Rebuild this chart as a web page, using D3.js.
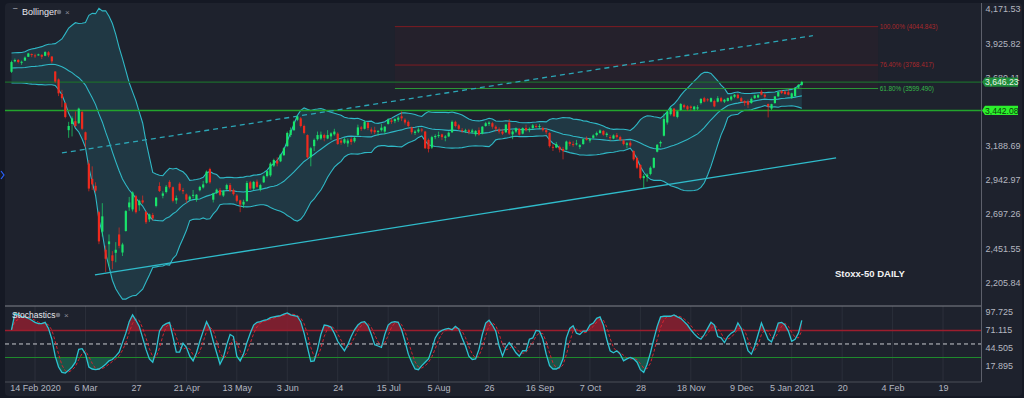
<!DOCTYPE html>
<html>
<head>
<meta charset="utf-8">
<script src="https://cdn.jsdelivr.net/npm/d3@7"></script>
<style>
    html, body { margin: 0; padding: 0; background: #151924; }
    svg { display: block; font-family: "Liberation Sans", Arial, sans-serif; }
</style>
</head>
<body>
<svg id="chart" width="1024" height="398"></svg>
<script>
// Stoxx-50 daily, 5 Feb 2020 .. 8 Jan 2021, one row per session: [open, high, low, close]
var candles = [
    [3720, 3800, 3712, 3790], [3795, 3815, 3788, 3805], [3805, 3812, 3780, 3790], [3785, 3800, 3770, 3792], [3800, 3830, 3798, 3822],
    [3828, 3856, 3826, 3852], [3848, 3852, 3825, 3840], [3838, 3850, 3820, 3836], [3838, 3850, 3835, 3845], [3842, 3846, 3812, 3828],
    [3835, 3868, 3832, 3862], [3860, 3868, 3825, 3838], [3830, 3832, 3782, 3795], [3722, 3724, 3640, 3650], [3665, 3672, 3545, 3565],
    [3560, 3590, 3465, 3530], [3495, 3500, 3385, 3395], [3300, 3360, 3245, 3330], [3345, 3400, 3255, 3385], [3365, 3435, 3320, 3330],
    [3350, 3462, 3345, 3455], [3430, 3440, 3300, 3310], [3285, 3290, 3175, 3230], [3060, 3085, 2860, 2880], [2950, 3040, 2870, 2910],
    [2900, 2925, 2850, 2865], [2710, 2720, 2480, 2500], [2570, 2775, 2535, 2680], [2440, 2470, 2280, 2375], [2480, 2550, 2320, 2500],
    [2400, 2430, 2300, 2360], [2418, 2495, 2350, 2440], [2550, 2600, 2450, 2468], [2420, 2490, 2395, 2478], [2575, 2725, 2570, 2718],
    [2745, 2820, 2720, 2780], [2730, 2860, 2715, 2852], [2825, 2835, 2700, 2710], [2760, 2800, 2720, 2792], [2795, 2830, 2770, 2780],
    [2712, 2720, 2625, 2638], [2658, 2700, 2640, 2694], [2690, 2705, 2650, 2665], [2755, 2820, 2745, 2815], [2898, 2925, 2855, 2862],
    [2828, 2860, 2810, 2845], [2855, 2905, 2845, 2893], [2928, 2940, 2880, 2890], [2890, 2895, 2780, 2792], [2795, 2830, 2770, 2812],
    [2915, 2925, 2860, 2868], [2870, 2885, 2840, 2860], [2838, 2845, 2775, 2800], [2800, 2830, 2790, 2822], [2830, 2870, 2810, 2835],
    [2800, 2840, 2785, 2836], [2868, 2900, 2860, 2892], [2888, 2935, 2880, 2910], [2921, 3010, 2915, 3002], [3020, 3030, 2915, 2925],
    [2800, 2850, 2780, 2845], [2850, 2880, 2840, 2872], [2870, 2885, 2825, 2835], [2830, 2870, 2820, 2862], [2875, 2915, 2870, 2905],
    [2905, 2920, 2855, 2865], [2870, 2880, 2830, 2840], [2830, 2840, 2780, 2792], [2795, 2800, 2710, 2765], [2765, 2800, 2740, 2785],
    [2790, 2935, 2785, 2920], [2925, 2935, 2870, 2880], [2880, 2935, 2870, 2928], [2930, 2945, 2885, 2892], [2875, 2915, 2860, 2905],
    [2925, 2975, 2920, 2968], [2970, 3010, 2960, 3005], [2975, 3070, 2965, 3060], [3045, 3095, 3035, 3085], [3080, 3105, 3040, 3060],
    [3076, 3130, 3070, 3124], [3120, 3178, 3115, 3170], [3185, 3290, 3180, 3280], [3265, 3320, 3250, 3300], [3300, 3370, 3295, 3362],
    [3375, 3405, 3365, 3398], [3385, 3395, 3320, 3330], [3330, 3340, 3270, 3280], [3265, 3270, 3095, 3105], [3105, 3180, 3040, 3170],
    [3185, 3240, 3150, 3230], [3235, 3290, 3225, 3265], [3240, 3290, 3230, 3268], [3265, 3275, 3220, 3245], [3240, 3300, 3235, 3265],
    [3255, 3285, 3230, 3277], [3270, 3310, 3260, 3290], [3275, 3285, 3195, 3200], [3225, 3240, 3195, 3210], [3210, 3245, 3200, 3235],
    [3205, 3240, 3180, 3225], [3235, 3250, 3195, 3215], [3220, 3255, 3210, 3245], [3265, 3340, 3255, 3320], [3320, 3330, 3295, 3310],
    [3310, 3370, 3305, 3360], [3355, 3360, 3300, 3315], [3305, 3320, 3275, 3290], [3300, 3325, 3270, 3285], [3290, 3300, 3260, 3295],
    [3300, 3345, 3290, 3318], [3290, 3330, 3270, 3325], [3345, 3385, 3340, 3375], [3370, 3385, 3345, 3360], [3365, 3385, 3350, 3380],
    [3375, 3400, 3360, 3390], [3400, 3435, 3365, 3385], [3375, 3385, 3340, 3355], [3360, 3370, 3320, 3330], [3320, 3325, 3270, 3285],
    [3280, 3300, 3265, 3290], [3290, 3320, 3280, 3305], [3305, 3315, 3285, 3300], [3290, 3295, 3165, 3170], [3230, 3240, 3140, 3165],
    [3175, 3260, 3165, 3250], [3250, 3270, 3235, 3258], [3260, 3290, 3245, 3265], [3270, 3275, 3230, 3250], [3245, 3265, 3220, 3255],
    [3255, 3290, 3250, 3282], [3285, 3370, 3280, 3360], [3360, 3368, 3320, 3330], [3335, 3345, 3300, 3310], [3300, 3315, 3280, 3295],
    [3295, 3310, 3280, 3300], [3300, 3310, 3270, 3285], [3285, 3310, 3275, 3298], [3270, 3300, 3255, 3295], [3300, 3320, 3260, 3268],
    [3275, 3330, 3270, 3325], [3330, 3360, 3325, 3350], [3345, 3365, 3330, 3355], [3350, 3360, 3310, 3325], [3325, 3335, 3290, 3310],
    [3305, 3320, 3275, 3290], [3290, 3310, 3265, 3275], [3285, 3345, 3280, 3340], [3355, 3380, 3265, 3275], [3270, 3300, 3235, 3290],
    [3290, 3320, 3280, 3312], [3310, 3315, 3260, 3268], [3275, 3320, 3270, 3315], [3315, 3340, 3290, 3300], [3300, 3320, 3285, 3310],
    [3315, 3345, 3310, 3335], [3330, 3345, 3315, 3325], [3325, 3345, 3310, 3330], [3315, 3325, 3290, 3300], [3300, 3315, 3270, 3285],
    [3280, 3285, 3175, 3185], [3180, 3200, 3150, 3175], [3175, 3215, 3170, 3200], [3180, 3190, 3140, 3160], [3165, 3180, 3090, 3150],
    [3160, 3225, 3155, 3218], [3215, 3225, 3185, 3200], [3200, 3220, 3180, 3195], [3200, 3230, 3190, 3205], [3180, 3200, 3165, 3192],
    [3200, 3240, 3195, 3235], [3240, 3255, 3225, 3230], [3225, 3245, 3210, 3238], [3245, 3270, 3240, 3262], [3265, 3290, 3255, 3280],
    [3280, 3305, 3275, 3298], [3295, 3300, 3260, 3268], [3265, 3285, 3250, 3275], [3250, 3265, 3225, 3245], [3240, 3270, 3235, 3262],
    [3265, 3280, 3240, 3250], [3250, 3260, 3220, 3230], [3225, 3235, 3190, 3200], [3195, 3215, 3170, 3205], [3210, 3225, 3180, 3190],
    [3150, 3155, 3080, 3090], [3100, 3110, 3020, 3030], [3050, 3055, 2945, 2955], [2955, 2985, 2885, 2970], [2965, 2990, 2930, 2980],
    [2985, 3040, 2975, 3030], [3030, 3105, 3025, 3100], [3145, 3200, 3140, 3195], [3205, 3225, 3180, 3215], [3260, 3420, 3255, 3380],
    [3355, 3440, 3340, 3432], [3415, 3465, 3405, 3458], [3455, 3460, 3395, 3400], [3395, 3440, 3385, 3435], [3445, 3495, 3440, 3488],
    [3480, 3490, 3455, 3465], [3472, 3480, 3440, 3450], [3470, 3478, 3440, 3460], [3450, 3475, 3440, 3470], [3455, 3480, 3445, 3465],
    [3495, 3530, 3485, 3525], [3530, 3540, 3500, 3505], [3522, 3530, 3505, 3515], [3505, 3535, 3500, 3530], [3510, 3520, 3465, 3471],
    [3505, 3545, 3500, 3530], [3530, 3540, 3500, 3508], [3505, 3525, 3495, 3519], [3510, 3535, 3505, 3531], [3520, 3550, 3510, 3542],
    [3540, 3560, 3530, 3555], [3555, 3565, 3525, 3531], [3530, 3540, 3500, 3507], [3510, 3515, 3475, 3495], [3507, 3520, 3460, 3483],
    [3495, 3535, 3490, 3525], [3530, 3555, 3525, 3550], [3535, 3560, 3530, 3552], [3578, 3590, 3550, 3555], [3555, 3565, 3530, 3540],
    [3488, 3492, 3392, 3471], [3455, 3490, 3445, 3487], [3495, 3545, 3490, 3543], [3543, 3580, 3540, 3574], [3582, 3590, 3560, 3567],
    [3578, 3585, 3555, 3560], [3573, 3595, 3550, 3555], [3532, 3570, 3525, 3565], [3545, 3610, 3540, 3602], [3606, 3632, 3600, 3626],
    [3626, 3655, 3620, 3646.23]
];

// closes of the 19 sessions before the first candle (only feed the 20-day Bollinger)
var priorCloses = [3795, 3780, 3780, 3788, 3775, 3781, 3808, 3800, 3770, 3780, 3755, 3779, 3677, 3705, 3719, 3640, 3641, 3656, 3732];

// stochastics %K, one value per candle
var stochK = [
    71, 95, 93, 90, 90, 88, 85, 82, 80, 80,
    82, 73, 57, 32, 16, 8, 7, 11, 16, 23,
    42, 43, 35, 16, 13, 12, 13, 16, 20, 25,
    27, 32, 38, 52, 66, 83, 93, 85, 76, 59,
    42, 28, 23, 40, 69, 77, 80, 82, 61, 38,
    38, 51, 45, 32, 25, 37, 54, 69, 83, 73,
    54, 37, 20, 30, 49, 64, 61, 32, 25, 35,
    52, 66, 78, 82, 83, 85, 86, 89, 90, 91,
    92, 94, 96, 93, 92, 91, 83, 66, 45, 24,
    25, 42, 64, 78, 77, 75, 66, 54, 47, 40,
    49, 61, 71, 78, 82, 83, 77, 64, 49, 47,
    45, 64, 78, 82, 83, 82, 71, 54, 35, 23,
    13, 12, 18, 23, 28, 42, 59, 67, 70, 72,
    73, 71, 76, 72, 59, 47, 32, 27, 28, 42,
    64, 81, 85, 78, 69, 47, 32, 45, 52, 45,
    37, 32, 40, 40, 57, 59, 70, 69, 57, 35,
    18, 13, 13, 16, 28, 59, 73, 77, 66, 64,
    69, 69, 78, 81, 88, 90, 78, 57, 40, 37,
    40, 35, 25, 28, 30, 28, 23, 12, 8, 20,
    37, 57, 76, 90, 91, 91, 91, 93, 90, 88,
    83, 78, 71, 65, 60, 57, 64, 73, 82, 78,
    61, 59, 52, 61, 66, 69, 81, 73, 57, 40,
    35, 47, 64, 81, 69, 57, 53, 66, 81, 82,
    78, 69, 54, 57, 66, 85
];

// 3,434.40 sits under the 3,442.08 tag and is not shown
var priceTicks = [4171.53, 3925.82, 3680.11, 3188.69, 2942.97, 2697.26, 2451.55, 2205.84];
var stochTicks = [97.725, 71.115, 44.505, 17.895];
var stochLevels = [70, 50, 30];

// session index of each date label (first candle = 0)
var xTickIndex = [7, 22, 37, 52, 67, 82, 97, 112, 127, 142, 157, 172, 187, 202, 217, 232, 247, 262, 277];
var xTickLabels = ["14 Feb 2020", "6 Mar", "27", "21 Apr", "13 May", "3 Jun", "24", "15 Jul", "5 Aug", "26",
    "16 Sep", "7 Oct", "28", "18 Nov", "9 Dec", "5 Jan 2021", "20", "4 Feb", "19"];

// fibonacci drawing
var fibPercent = ["100.00%", "76.40%", "61.80%"];
var fibPrices = [4044.843, 3768.417, 3599.490];
var fibRange = [114, 257.7];

var markedPrices = [3646.23, 3442.08];

// trend lines, [session index, price]
var dashedTrend = [[15.0, 3136], [238.3, 3979.5]];
var supportTrend = [[24.8, 2258.7], [245.2, 3100]];

var svg = d3.select("#chart");
var plotLeft = 5, plotRight = 981.5;
var mainTop = 3, mainBottom = 306, stochBottom = 382;

var x = d3.scaleLinear().domain([0, 235]).range([11.5, 801.8]);
var yPrice = d3.scaleLinear().domain([2205.84, 4171.53]).range([282.3, 9]);
var yStoch = d3.scaleLinear().domain([17.895, 97.725]).range([365.7, 311.7]);

// background
svg.append("rect").attr("width", 1024).attr("height", 398).attr("fill", "#151924");
svg.append("rect").attr("x", 5).attr("y", 3).attr("width", 1017).attr("height", 393).attr("rx", 4).attr("fill", "#1e222d");
svg.append("path").attr("d", "M1,171L4,175L1,179").attr("fill", "none").attr("stroke", "#2962ff").attr("stroke-width", 1.2);

var defs = svg.append("defs");
defs.append("clipPath").attr("id", "clipMain").append("rect")
    .attr("x", plotLeft).attr("y", mainTop).attr("width", plotRight - plotLeft).attr("height", mainBottom - mainTop);
defs.append("clipPath").attr("id", "clipOver").append("rect")
    .attr("x", plotLeft).attr("y", mainBottom).attr("width", plotRight - plotLeft).attr("height", yStoch(70) - mainBottom);
defs.append("clipPath").attr("id", "clipUnder").append("rect")
    .attr("x", plotLeft).attr("y", yStoch(30)).attr("width", plotRight - plotLeft).attr("height", stochBottom - yStoch(30));

// bollinger 20, 2
var allCloses = priorCloses.concat(candles.map(function (c) { return c[3]; }));
var bands = candles.map(function (c, i) {
    var win = allCloses.slice(i, i + 20);
    var mean = d3.mean(win);
    var sd = Math.sqrt(d3.variance(win) * (win.length - 1) / win.length);
    return { mid: mean, up: mean + 2 * sd, lo: mean - 2 * sd };
});

var main = svg.append("g").attr("clip-path", "url(#clipMain)");

// fib box
main.append("rect")
    .attr("x", x(fibRange[0])).attr("width", x(fibRange[1]) - x(fibRange[0]))
    .attr("y", yPrice(fibPrices[0])).attr("height", yPrice(fibPrices[2]) - yPrice(fibPrices[0]))
    .attr("fill", "#8a1c2a").attr("fill-opacity", 0.07);

main.append("path")
    .datum(bands)
    .attr("fill", "#2ab0bf").attr("fill-opacity", 0.16)
    .attr("d", d3.area().x(function (d, i) { return x(i); })
        .y0(function (d) { return yPrice(d.lo); }).y1(function (d) { return yPrice(d.up); }));

["up", "mid", "lo"].forEach(function (k) {
    main.append("path")
        .datum(bands)
        .attr("fill", "none").attr("stroke", "#2fb8c6").attr("stroke-width", 1.1)
        .attr("d", d3.line().x(function (d, i) { return x(i); }).y(function (d) { return yPrice(d[k]); }));
});

// horizontal price lines
main.append("line")
    .attr("x1", plotLeft).attr("x2", plotRight)
    .attr("y1", yPrice(markedPrices[0])).attr("y2", yPrice(markedPrices[0]))
    .attr("stroke", "#1d6a2c").attr("stroke-width", 1.2);
main.append("line")
    .attr("x1", plotLeft).attr("x2", plotRight)
    .attr("y1", yPrice(markedPrices[1])).attr("y2", yPrice(markedPrices[1]))
    .attr("stroke", "#23a42c").attr("stroke-width", 1.5);

// fib levels
fibPrices.forEach(function (p, i) {
    var col = i < 2 ? "#7e1c22" : "#2c9a38";
    main.append("line")
        .attr("x1", x(fibRange[0])).attr("x2", x(fibRange[1]))
        .attr("y1", yPrice(p)).attr("y2", yPrice(p))
        .attr("stroke", col).attr("stroke-width", 1);
    svg.append("text")
        .attr("x", x(fibRange[1]) + 1.5).attr("y", yPrice(p) + 2.2)
        .attr("font-size", 6.4).attr("fill", i < 2 ? "#a8282c" : "#36b84a")
        .text(fibPercent[i] + " (" + d3.format(".3f")(p) + ")");
});

// trend lines
var trendLine = d3.line().x(function (d) { return x(d[0]); }).y(function (d) { return yPrice(d[1]); });
main.append("path").datum(dashedTrend)
    .attr("d", trendLine).attr("stroke", "#2ba6b6").attr("stroke-width", 1.3)
    .attr("stroke-dasharray", "5,4").attr("fill", "none");
main.append("path").datum(supportTrend)
    .attr("d", trendLine).attr("stroke", "#2fbccb").attr("stroke-width", 1.3).attr("fill", "none");

// candles
var green = "#19e46b", red = "#ee2a1e";
var candle = main.selectAll("g.candle").data(candles).enter().append("g").attr("class", "candle");
candle.append("line")
    .attr("x1", function (d, i) { return x(i); }).attr("x2", function (d, i) { return x(i); })
    .attr("y1", function (d) { return yPrice(d[1]); }).attr("y2", function (d) { return yPrice(d[2]); })
    .attr("stroke", function (d) { return d[3] >= d[0] ? green : red; })
    .attr("stroke-opacity", 0.75).attr("stroke-width", 0.9);
candle.append("rect")
    .attr("x", function (d, i) { return x(i) - 1.1; })
    .attr("width", 2.2)
    .attr("y", function (d) { return yPrice(Math.max(d[0], d[3])); })
    .attr("height", function (d) { return Math.max(1, Math.abs(yPrice(d[0]) - yPrice(d[3]))); })
    .attr("fill", function (d) { return d[3] >= d[0] ? green : red; });

// stochastics panel
var stochD = stochK.map(function (v, i) {
    return d3.mean(stochK.slice(Math.max(0, i - 2), i + 1));
});

svg.selectAll("line.vgrid").data(xTickIndex).enter().append("line")
    .attr("class", "vgrid")
    .attr("x1", function (d) { return x(d); }).attr("x2", function (d) { return x(d); })
    .attr("y1", mainBottom).attr("y2", stochBottom)
    .attr("stroke", "#2b2f3a").attr("stroke-width", 1);

var kArea = function (level) {
    return d3.area().x(function (d, i) { return x(i); })
        .y0(yStoch(level)).y1(function (d) { return yStoch(d); });
};
svg.append("path").datum(stochK).attr("clip-path", "url(#clipOver)")
    .attr("d", kArea(70)).attr("fill", "#8c1f30").attr("fill-opacity", 0.85);
svg.append("path").datum(stochK).attr("clip-path", "url(#clipUnder)")
    .attr("d", kArea(30)).attr("fill", "#1b5a4b").attr("fill-opacity", 0.9);

svg.append("line").attr("x1", plotLeft).attr("x2", plotRight)
    .attr("y1", yStoch(stochLevels[0])).attr("y2", yStoch(stochLevels[0]))
    .attr("stroke", "#9c1d2d").attr("stroke-width", 1.4);
svg.append("line").attr("x1", plotLeft).attr("x2", plotRight)
    .attr("y1", yStoch(stochLevels[1])).attr("y2", yStoch(stochLevels[1]))
    .attr("stroke", "#c9cbd0").attr("stroke-width", 1).attr("stroke-dasharray", "4,3");
svg.append("line").attr("x1", plotLeft).attr("x2", plotRight)
    .attr("y1", yStoch(stochLevels[2])).attr("y2", yStoch(stochLevels[2]))
    .attr("stroke", "#1f8a2c").attr("stroke-width", 1);

var stochLine = d3.line().x(function (d, i) { return x(i); }).y(function (d) { return yStoch(d); });
svg.append("path").datum(stochD)
    .attr("d", stochLine).attr("fill", "none")
    .attr("stroke", "#d5232f").attr("stroke-width", 1).attr("stroke-dasharray", "3,2");
svg.append("path").datum(stochK)
    .attr("d", stochLine).attr("fill", "none")
    .attr("stroke", "#2cc3d1").attr("stroke-width", 1.3);

// separators and axis lines
svg.append("line").attr("x1", plotLeft).attr("x2", plotRight).attr("y1", mainBottom).attr("y2", mainBottom)
    .attr("stroke", "#80838c").attr("stroke-width", 1);
svg.append("line").attr("x1", plotLeft).attr("x2", plotRight).attr("y1", stochBottom).attr("y2", stochBottom)
    .attr("stroke", "#4a4e58").attr("stroke-width", 1);
svg.append("line").attr("x1", plotRight).attr("x2", plotRight).attr("y1", mainTop).attr("y2", stochBottom)
    .attr("stroke", "#5d606b").attr("stroke-width", 1);

// axes
var priceAxis = svg.append("g").attr("transform", "translate(" + plotRight + ",0)")
    .call(d3.axisRight(yPrice).tickValues(priceTicks).tickSize(0).tickPadding(4).tickFormat(d3.format(",.2f")));
var stochAxis = svg.append("g").attr("transform", "translate(" + plotRight + ",0)")
    .call(d3.axisRight(yStoch).tickValues(stochTicks).tickSize(0).tickPadding(4).tickFormat(d3.format(".3f")));
var timeAxis = svg.append("g").attr("transform", "translate(0," + stochBottom + ")")
    .call(d3.axisBottom(x).tickValues(xTickIndex).tickSize(0).tickPadding(3)
        .tickFormat(function (d, i) { return xTickLabels[i]; }));
[priceAxis, stochAxis, timeAxis].forEach(function (a) {
    a.select(".domain").remove();
    a.selectAll("text").attr("fill", "#b4b7c0").attr("font-size", 9)
        .attr("font-family", "'Liberation Sans', Arial, sans-serif");
});

// last price / marked price tags
var tagColors = [["#1f8d3b", "#e8f5e9"], ["#2cf02c", "#0b3d0b"]];
markedPrices.forEach(function (p, i) {
    var cy = yPrice(p);
    svg.append("path")
        .attr("d", "M" + (plotRight + 0.5) + "," + cy + "L" + (plotRight + 3.5) + "," + (cy - 4.6) +
            "L1018," + (cy - 4.6) + "L1018," + (cy + 4.6) + "L" + (plotRight + 3.5) + "," + (cy + 4.6) + "Z")
        .attr("fill", tagColors[i][0]);
    svg.append("text").attr("x", 985).attr("y", cy + 3.1)
        .attr("font-size", 8.6).attr("fill", tagColors[i][1])
        .text(d3.format(",.2f")(p));
});

// titles
svg.append("text").attr("x", 13).attr("y", 10).attr("font-size", 8).attr("fill", "#d1d4dc").text("\u2013");
svg.append("text").attr("x", 22).attr("y", 14.5).attr("font-size", 9).attr("fill", "#e6e8ee").text("Bollinger");
svg.append("circle").attr("cx", 59).attr("cy", 12).attr("r", 2.3).attr("fill", "#6b6f7a");
svg.append("text").attr("x", 65).attr("y", 14.5).attr("font-size", 8).attr("fill", "#8c8f98").text("\u00d7");

svg.append("text").attr("x", 12).attr("y", 317.5).attr("font-size", 8.5).attr("fill", "#e6e8ee").text("Stochastics");
svg.append("circle").attr("cx", 58).attr("cy", 315).attr("r", 2.3).attr("fill", "#6b6f7a");
svg.append("text").attr("x", 64).attr("y", 317.5).attr("font-size", 8).attr("fill", "#8c8f98").text("\u00d7");

svg.append("text").attr("x", 835).attr("y", 277).attr("font-size", 9.5).attr("font-weight", "bold")
    .attr("fill", "#f2f2f2").text("Stoxx-50 DAILY");
</script>
</body>
</html>
